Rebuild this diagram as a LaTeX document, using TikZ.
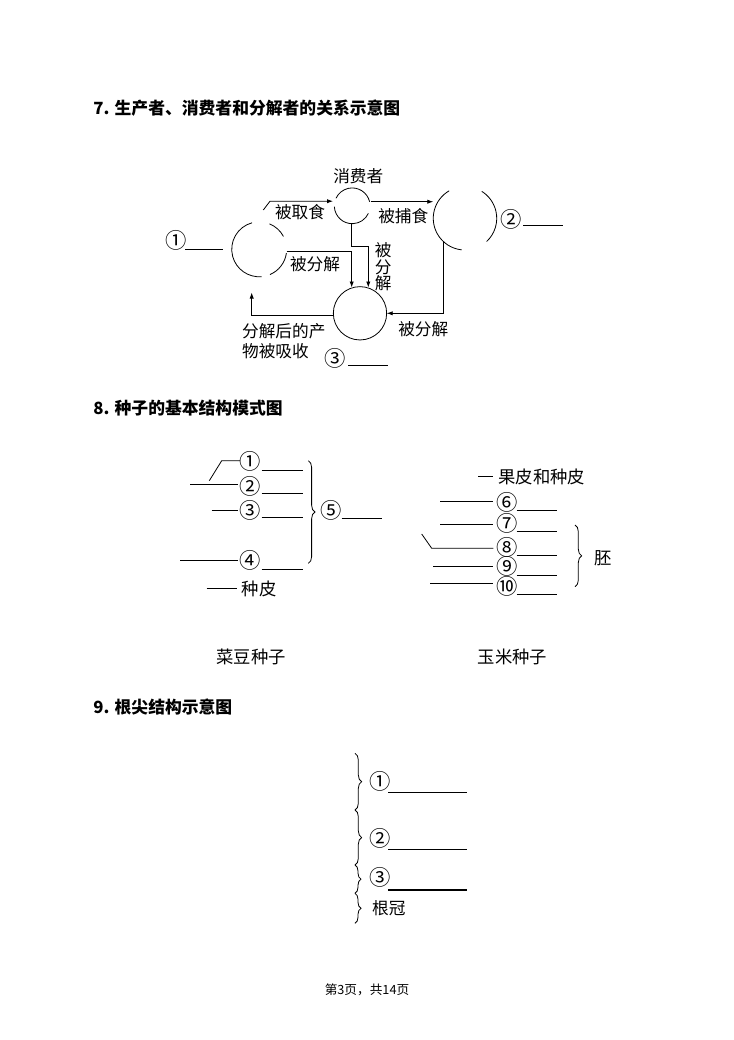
\documentclass[tikz,border=0pt]{standalone}
\usepackage{fontspec}
\setmainfont{Noto Sans CJK SC}
\usetikzlibrary{arrows.meta,decorations.pathreplacing}
\begin{document}
\begin{tikzpicture}[x=0.75pt,y=-0.75pt, line width=0.6pt,
  txt/.style={inner sep=0pt, font=\fontsize{12.5}{12.5}\selectfont},
  txtb/.style={inner sep=0pt, font=\fontsize{13}{13}\selectfont},
  num/.style={inner sep=0pt, font=\fontsize{16}{16}\selectfont},
  arr/.style={-{Latex[length=4.5pt,width=3.2pt]}},
  ring/.style={circle, inner sep=0pt, outer sep=0pt},
  ttl/.style={anchor=west, inner sep=0pt, font=\fontsize{12.6}{14}\selectfont\bfseries},
  brc/.style={decorate, decoration={brace, amplitude=5pt}},
]
\fill[white] (0,0) rectangle (733,1040);
\useasboundingbox (0,0) rectangle (733,1040);

% ---------- Section 7 ----------
\node[ttl] (t7) at (93,108) {7. 生产者、消费者和分解者的关系示意图};

\node[ring, minimum size=41.2pt] (prod) at (259.2,249.3) {};
\draw (prod.105) arc[start angle=105, end angle=275, radius=20.6pt];
\draw (prod.28) arc[start angle=28, end angle=68, radius=20.6pt];
\draw (prod.-67) arc[start angle=-67, end angle=-8, radius=20.6pt];

\node[ring, minimum size=26.8pt] (cons) at (352.2,205.8) {};
\draw (cons.13) arc[start angle=13, end angle=155, radius=13.4pt];
\draw (cons.183) arc[start angle=183, end angle=335, radius=13.4pt];

\node[ring, minimum size=47.6pt] (pred) at (465,218.3) {};
\draw (pred.120) arc[start angle=120, end angle=264, radius=23.8pt];
\draw (pred.-47) arc[start angle=-47, end angle=58, radius=23.8pt];

\node[ring, draw, minimum size=40pt] (dec) at (360,313.3) {};

\node[txt] (lcons) at (358.3,175.7) {消费者};
\node[txt] (leat) at (300,212.3) {被取食};
\node[txt] (lhunt) at (403.3,215.7) {被捕食};
\node[txt] (ldec1) at (315,264) {被分解};
\node[txt, align=center] (ldec2) at (383.3,266.7) {被\\分\\解};
\node[txt] (ldec3) at (423.3,329) {被分解};
\node[txt, anchor=west] (labs1) at (241.7,330.7) {分解后的产};
\node[txt, anchor=west] (labs2) at (241.7,350.7) {物被吸收};

\node[num] (n1) at (175.7,240) {①};
\coordinate (u1a) at (185,249.3); \coordinate (u1b) at (223.3,249.3);
\draw (u1a) -- (u1b);
\node[num] (n2) at (510.7,219) {②};
\coordinate (u2a) at (523.3,225); \coordinate (u2b) at (563.3,225);
\draw (u2a) -- (u2b);
\node[num] (n3) at (335,358.3) {③};
\coordinate (u3a) at (348.3,365); \coordinate (u3b) at (388.3,365);
\draw (u3a) -- (u3b);

% arrows
\coordinate (a1s) at (263.3,210); \coordinate (a1m) at (270,201.2); \coordinate (a1e) at (333,201.2);
\draw[arr] (a1s) -- (a1m) -- (a1e);
\coordinate (a2s) at (370.7,201.7); \coordinate (a2e) at (433.3,201.7);
\draw[arr] (a2s) -- (a2e);
\coordinate (a3s) at (351.7,223.6); \coordinate (a3m1) at (351.7,246.7); \coordinate (a3m2) at (368.3,246.7); \coordinate (a3e) at (368.3,287.5);
\draw[arr] (a3s) -- (a3m1) -- (a3m2) -- (a3e);
\coordinate (a4s) at (286.7,251.7); \coordinate (a4m) at (351.7,251.7); \coordinate (a4e) at (351.7,287.5);
\draw[arr] (a4s) -- (a4m) -- (a4e);
\coordinate (a5s) at (443.3,241.4); \coordinate (a5m) at (443.3,313.3); \coordinate (a5e) at (386.7,313.3);
\draw[arr] (a5s) -- (a5m) -- (a5e);
\coordinate (a6s) at (333.3,315.7); \coordinate (a6m) at (251.7,315.7); \coordinate (a6e) at (251.7,292.5);
\draw[arr] (a6s) -- (a6m) -- (a6e);

% ---------- Section 8 ----------
\node[ttl] (t8) at (93,408) {8. 种子的基本结构模式图};

% bean seed
\node[num] (b1) at (250,461.7) {①};
\node[num] (b2) at (250,486) {②};
\node[num] (b3) at (250,510) {③};
\node[num] (b4) at (250,560.7) {④};
\coordinate (l1a) at (221.7,460.7); \coordinate (l1b) at (240,460.7); \coordinate (l1c) at (209.3,480.7);
\draw (l1c) -- (l1a) -- (l1b);
\coordinate (l2a) at (190,484.3); \coordinate (l2b) at (238.3,484.3);
\draw (l2a) -- (l2b);
\coordinate (l3a) at (211.7,510.7); \coordinate (l3b) at (238.3,510.7);
\draw (l3a) -- (l3b);
\coordinate (l4a) at (180,560.7); \coordinate (l4b) at (238.3,560.7);
\draw (l4a) -- (l4b);
\foreach \i/\y in {1/470,2/493.3,3/517.3,4/569}{
  \coordinate (bu\i a) at (261.7,\y); \coordinate (bu\i b) at (302.7,\y);
  \draw (bu\i a) -- (bu\i b);
}
\coordinate (bbt) at (308.3,460.7); \coordinate (bbb) at (308.3,563.3);
\draw[brc] (bbt) -- (bbb);
\node[num] (b5) at (330.7,510.7) {⑤};
\coordinate (bu5a) at (341.7,518.3); \coordinate (bu5b) at (381.7,518.3);
\draw (bu5a) -- (bu5b);
\coordinate (spa) at (206.7,588.3); \coordinate (spb) at (236.7,588.3);
\draw (spa) -- (spb);
\node[txtb] (sp) at (259,589.3) {种皮};

% corn seed
\coordinate (gpa) at (478.3,476); \coordinate (gpb) at (493.3,476);
\draw (gpa) -- (gpb);
\node[txtb] (gp) at (541.7,476.7) {果皮和种皮};
\node[num] (c6) at (506.7,502.3) {⑥};
\node[num] (c7) at (506.7,523.3) {⑦};
\node[num] (c8) at (506.7,547.3) {⑧};
\node[num] (c9) at (506.7,566.7) {⑨};
\node[num] (c10) at (506.7,586) {⑩};
\coordinate (m6a) at (440,501.7); \coordinate (m6b) at (493.3,501.7);
\draw (m6a) -- (m6b);
\coordinate (m7a) at (440,524); \coordinate (m7b) at (493.3,524);
\draw (m7a) -- (m7b);
\coordinate (m8a) at (421.7,534); \coordinate (m8m) at (431.7,548.3); \coordinate (m8b) at (493.3,548.3);
\draw (m8a) -- (m8m) -- (m8b);
\coordinate (m9a) at (433.3,566); \coordinate (m9b) at (493.3,566);
\draw (m9a) -- (m9b);
\coordinate (m10a) at (430,583.3); \coordinate (m10b) at (493.3,583.3);
\draw (m10a) -- (m10b);
\foreach \i/\y in {6/510.7,7/531.7,8/555,9/575.7,10/594.3}{
  \coordinate (cu\i a) at (516.7,\y); \coordinate (cu\i b) at (556.7,\y);
  \draw (cu\i a) -- (cu\i b);
}
\coordinate (cbt) at (575,525); \coordinate (cbb) at (575,586.7);
\draw[brc] (cbt) -- (cbb);
\node[txtb] (pei) at (603.3,558.3) {胚};

\node[txtb] (cap1) at (251,657) {菜豆种子};
\node[txtb] (cap2) at (512.5,657) {玉米种子};

% ---------- Section 9 ----------
\node[ttl] (t9) at (93,707) {9. 根尖结构示意图};
\coordinate (r0) at (355,753.3); \coordinate (r1) at (355,810);
\coordinate (r2) at (355,865); \coordinate (r3) at (355,893.3); \coordinate (r4) at (355,923.3);
\draw[brc] (r0) -- (r1);
\draw[brc] (r1) -- (r2);
\draw[brc, decoration={brace, amplitude=4.5pt}] (r2) -- (r3);
\draw[brc, decoration={brace, amplitude=4.5pt}] (r3) -- (r4);
\node[num] (g1) at (380,781.7) {①};
\node[num] (g2) at (380,838.3) {②};
\node[num] (g3) at (380,877.3) {③};
\node[txt, anchor=west] (gk) at (371.7,908.3) {根冠};
\coordinate (gu1a) at (388.3,792.3); \coordinate (gu1b) at (466.7,792.3);
\draw (gu1a) -- (gu1b);
\coordinate (gu2a) at (388.3,849); \coordinate (gu2b) at (466.7,849);
\draw (gu2a) -- (gu2b);
\coordinate (gu3a) at (388.3,890); \coordinate (gu3b) at (466.7,890);
\draw[line width=0.9pt] (gu3a) -- (gu3b);

% footer
\node[inner sep=0pt, font=\fontsize{9.5}{10}\selectfont] (foot) at (367,990) {第3页，共14页};
\end{tikzpicture}
\end{document}
